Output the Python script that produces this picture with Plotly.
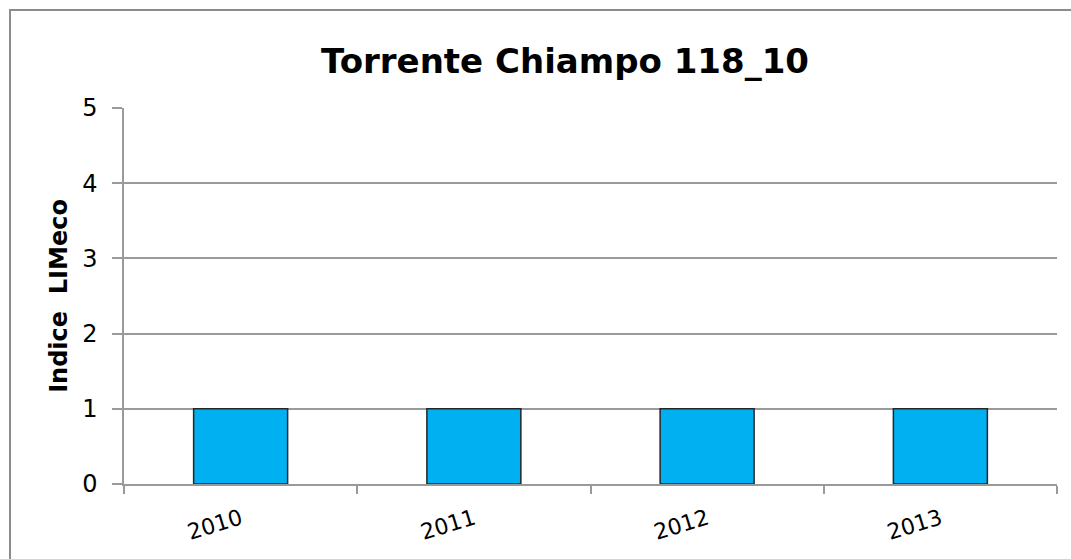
import plotly.graph_objects as go

# LIMeco index per year for the Torrente Chiampo station 118_10
years = ["2010", "2011", "2012", "2013"]
limeco = [1, 1, 1, 1]
y_ticks = [0, 1, 2, 3, 4, 5]

W, H = 1071, 559
ML, MR, MT, MB = 124, 14, 108, 75
pw, ph = W - ML - MR, H - MT - MB

fig = go.Figure(
    go.Bar(
        x=years,
        y=limeco,
        marker=dict(color="#00B0F0", line=dict(color="#262626", width=1.5)),
        width=0.403,
    )
)

grid = "#9a9a9a"
fig.update_layout(
    width=W,
    height=H,
    margin=dict(l=ML, r=MR, t=MT, b=MB),
    paper_bgcolor="white",
    plot_bgcolor="white",
    showlegend=False,
    font=dict(family="DejaVu Sans", color="black"),
    title=dict(
        text="<b>Torrente Chiampo 118_10</b>",
        x=565 / W,
        xanchor="center",
        y=1 - 61 / H,
        yanchor="middle",
        font=dict(size=34, family="DejaVu Sans", color="black"),
    ),
    xaxis=dict(
        type="category",
        range=[-0.5, 3.5],
        showgrid=False,
        showline=True,
        linecolor=grid,
        linewidth=1.5,
        ticks="outside",
        tickson="boundaries",
        ticklen=8,
        tickcolor=grid,
        tickwidth=1.5,
        tickangle=-17,
        ticklabelstandoff=12,
        tickfont=dict(size=22, family="DejaVu Sans", color="black"),
    ),
    yaxis=dict(
        range=[0, 5],
        tickvals=y_ticks,
        showgrid=True,
        gridcolor=grid,
        gridwidth=1.5,
        showline=True,
        linecolor=grid,
        linewidth=1.5,
        ticks="outside",
        ticklen=10,
        tickcolor=grid,
        tickwidth=1.5,
        zeroline=False,
        ticklabelstandoff=10,
        tickfont=dict(size=24, family="DejaVu Sans", color="black"),
        title=dict(
            text="<b>Indice  LIMeco</b>",
            font=dict(size=24, family="DejaVu Sans", color="black"),
            standoff=8,
        ),
    ),
)

# outer frame of the chart area
fig.add_shape(
    type="rect",
    xref="paper",
    yref="paper",
    x0=(10 - ML) / pw,
    x1=(W + 20 - ML) / pw,
    y0=-(H + 20 - (MT + ph)) / ph,
    y1=(MT + ph - 10) / ph,
    line=dict(color="#8c8c8c", width=2),
    fillcolor="rgba(0,0,0,0)",
    layer="below",
)

fig.write_html("out.html")
